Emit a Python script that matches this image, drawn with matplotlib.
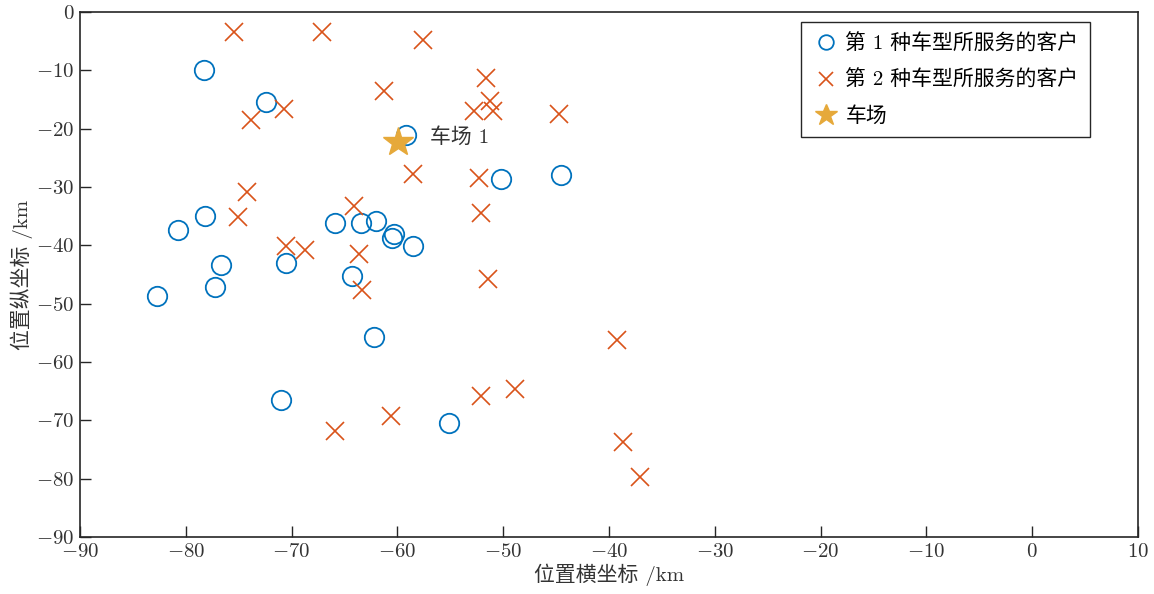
import numpy as np
import matplotlib
matplotlib.use("Agg")
import matplotlib.pyplot as plt

plt.rcParams['font.family'] = ['cmr10', 'Noto Sans CJK SC']
plt.rcParams['mathtext.fontset'] = 'cm'
plt.rcParams['axes.formatter.use_mathtext'] = True
plt.rcParams['axes.unicode_minus'] = True

# 第 1 种车型所服务的客户
x1 = [-78.3, -72.4, -59.2, -50.2, -44.5, -78.2, -80.7, -65.9, -63.4, -62.0,
      -60.3, -60.5, -58.5, -76.7, -70.5, -64.3, -82.7, -77.2, -62.2, -71.0, -55.1]
y1 = [-10.0, -15.5, -21.1, -28.7, -27.9, -35.0, -37.4, -36.1, -36.1, -35.8,
      -38.1, -38.7, -40.2, -43.4, -43.1, -45.3, -48.7, -47.1, -55.7, -66.5, -70.5]

# 第 2 种车型所服务的客户
x2 = [-75.4, -67.1, -57.6, -51.6, -61.3, -51.2, -52.8, -51.0, -44.7, -70.7,
      -73.8, -58.5, -52.3, -74.2, -75.1, -64.1, -52.1, -70.5, -68.7, -63.6,
      -63.3, -51.4, -39.2, -48.9, -52.1, -60.6, -65.9, -38.7, -37.1]
y2 = [-3.5, -3.5, -4.8, -11.4, -13.5, -15.2, -17.0, -17.0, -17.5, -16.7,
      -18.5, -27.7, -28.5, -30.8, -35.2, -33.2, -34.4, -40.2, -40.8, -41.5,
      -47.7, -45.8, -56.3, -64.7, -65.8, -69.2, -71.8, -73.7, -79.7]

# 车场
depot_x = [-59.9]
depot_y = [-22.3]

fig = plt.figure(figsize=(11.54, 5.94), dpi=100)
ax = fig.add_axes([0.0693, 0.096, 0.9168, 0.8838])

ax.plot(x1, y1, 'o', mfc='none', mec='#0072BD', ms=14, mew=1.3, label='第 1 种车型所服务的客户')
ax.plot(x2, y2, 'x', color='#D95319', ms=13, mew=1.2, label='第 2 种车型所服务的客户')
ax.plot(depot_x, depot_y, '*', color='#E6A93A', ms=22, label='车场')
ax.text(depot_x[0] + 3.0, depot_y[0] + 0.9, '车场 1', fontsize=15, va='center', color='#333333')

ax.set_xlim(-90, 10)
ax.set_ylim(-90, 0)
ax.set_xticks(np.arange(-90, 11, 10))
ax.set_yticks(np.arange(-90, 1, 10))
ax.tick_params(direction='in', length=8, width=1, labelsize=15, colors='#262626', pad=4)
ax.tick_params(labelcolor='#333333')
for s in ax.spines.values():
    s.set_color('#262626')
    s.set_linewidth(1.2)

ax.set_xlabel('位置横坐标 /km', fontsize=15, labelpad=2, color='#333333')
ax.set_ylabel('位置纵坐标 /km', fontsize=15, labelpad=2, color='#333333')

leg = ax.legend(loc='upper right', bbox_to_anchor=(0.9546, 0.981), borderaxespad=0,
                fontsize=15, fancybox=False, framealpha=1, edgecolor='#262626',
                handletextpad=0.3, handlelength=1.3, borderpad=0.55, labelspacing=0.78,
                markerscale=0.75)
leg.get_frame().set_linewidth(1.0)

fig.savefig('out.png', dpi=100)
